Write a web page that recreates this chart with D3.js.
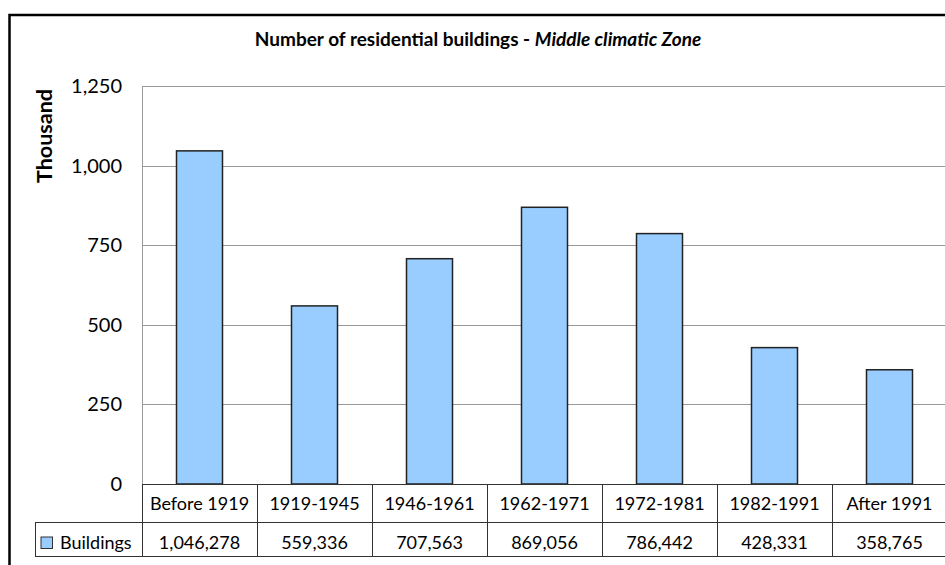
<!DOCTYPE html>
<html>
<head>
<meta charset="utf-8">
<script src="https://cdn.jsdelivr.net/npm/d3@7"></script>
<style>
  html, body { margin: 0; padding: 0; background: #fff; }
  svg { display: block; font-family: Lato, "Open Sans", sans-serif; }
</style>
</head>
<body>
<svg id="chart" width="945" height="565"></svg>
<script>
// Residential buildings by construction period (Middle climatic zone)
const categories = ["Before 1919", "1919-1945", "1946-1961", "1962-1971", "1972-1981", "1982-1991", "After 1991"];
const buildings = [1046278, 559336, 707563, 869056, 786442, 428331, 358765];
const yTicks = [0, 250, 500, 750, 1000, 1250];
const seriesName = "Buildings";

const svg = d3.select("#chart");

const plot = { left: 142, right: 947, top: 86, bottom: 484 };
const rowH1 = 38, rowH2 = 34;
const tableFont = 18;

// outer chart frame (runs off the right and bottom edges)
svg.append("rect")
  .attr("x", 9.5).attr("y", 15)
  .attr("width", 960).attr("height", 600)
  .attr("fill", "#fff").attr("stroke", "#000").attr("stroke-width", 2.5);

// title
const title = svg.append("text")
  .attr("x", 478).attr("y", 46)
  .attr("text-anchor", "middle")
  .attr("font-size", 19).attr("font-weight", "bold").attr("fill", "#000");
title.append("tspan").text("Number of residential buildings - ");
title.append("tspan").attr("font-style", "italic").text("Middle climatic Zone");

// scales
const xCol = d3.scaleBand().domain(categories).range([plot.left, plot.right]).padding(0);
const xBar = d3.scaleBand().domain(categories).range([plot.left, plot.right])
  .paddingInner(0.6).paddingOuter(0.3);
const y = d3.scaleLinear().domain([0, 1250]).range([plot.bottom, plot.top]);

// gridlines
svg.append("g").selectAll("line").data(yTicks.filter(d => d > 0)).join("line")
  .attr("x1", plot.left).attr("x2", plot.right)
  .attr("y1", d => Math.round(y(d)) + 0.5).attr("y2", d => Math.round(y(d)) + 0.5)
  .attr("stroke", "#999").attr("stroke-width", 1);

// plot-area left edge
svg.append("line")
  .attr("x1", plot.left + 0.5).attr("x2", plot.left + 0.5)
  .attr("y1", plot.top).attr("y2", plot.bottom)
  .attr("stroke", "#999");

// y axis labels
const yAxis = d3.axisLeft(y).tickValues(yTicks).tickSize(0).tickPadding(20)
  .tickFormat(d3.format(","));
const gy = svg.append("g").attr("transform", `translate(${plot.left},0)`).call(yAxis);
gy.select(".domain").remove();
gy.selectAll("text").attr("font-size", 20).attr("font-family", "Lato, sans-serif").attr("fill", "#000");

// y axis title
svg.append("text")
  .attr("transform", `translate(52,136) rotate(-90)`)
  .attr("text-anchor", "middle")
  .attr("font-size", 21.5).attr("font-weight", "bold").attr("fill", "#000")
  .text("Thousand");

// bars (values shown in thousands)
svg.append("g").selectAll("rect").data(categories).join("rect")
  .attr("x", d => xBar(d))
  .attr("width", xBar.bandwidth())
  .attr("y", (d, i) => y(buildings[i] / 1000))
  .attr("height", (d, i) => plot.bottom - y(buildings[i] / 1000))
  .attr("fill", "#99CCFF")
  .attr("stroke", "#222").attr("stroke-width", 1.5);

// data table
const tbl = svg.append("g").attr("stroke", "#333").attr("stroke-width", 1);
const r1 = plot.bottom, r2 = plot.bottom + rowH1, r3 = plot.bottom + rowH1 + rowH2;
const legendLeft = 35;
tbl.append("line").attr("x1", plot.left).attr("x2", plot.right).attr("y1", r1 + 0.5).attr("y2", r1 + 0.5);
tbl.append("line").attr("x1", legendLeft).attr("x2", plot.right).attr("y1", r2 + 0.5).attr("y2", r2 + 0.5);
tbl.append("line").attr("x1", legendLeft).attr("x2", plot.right).attr("y1", r3 + 0.5).attr("y2", r3 + 0.5);
tbl.append("line").attr("x1", legendLeft + 0.5).attr("x2", legendLeft + 0.5).attr("y1", r2).attr("y2", r3);
tbl.selectAll(".vcol").data(categories).join("line").attr("class", "vcol")
  .attr("x1", d => Math.round(xCol(d)) + 0.5).attr("x2", d => Math.round(xCol(d)) + 0.5)
  .attr("y1", r1).attr("y2", r3);

// category labels
svg.append("g").selectAll("text").data(categories).join("text")
  .attr("x", d => xCol(d) + xCol.bandwidth() / 2)
  .attr("y", r1 + 26)
  .attr("text-anchor", "middle")
  .attr("font-size", tableFont).attr("fill", "#000")
  .text(d => d);

// value labels
const fmt = d3.format(",");
svg.append("g").selectAll("text").data(categories).join("text")
  .attr("x", d => xCol(d) + xCol.bandwidth() / 2)
  .attr("y", r2 + 27)
  .attr("text-anchor", "middle")
  .attr("font-size", tableFont).attr("fill", "#000")
  .text((d, i) => fmt(buildings[i]));

// legend key in the table
svg.append("rect")
  .attr("x", 41).attr("y", 537).attr("width", 11.5).attr("height", 11.5)
  .attr("fill", "#99CCFF").attr("stroke", "#333").attr("stroke-width", 1);
svg.append("text")
  .attr("x", 60).attr("y", r2 + 27)
  .attr("font-size", tableFont).attr("fill", "#000")
  .text(seriesName);
</script>
</body>
</html>
